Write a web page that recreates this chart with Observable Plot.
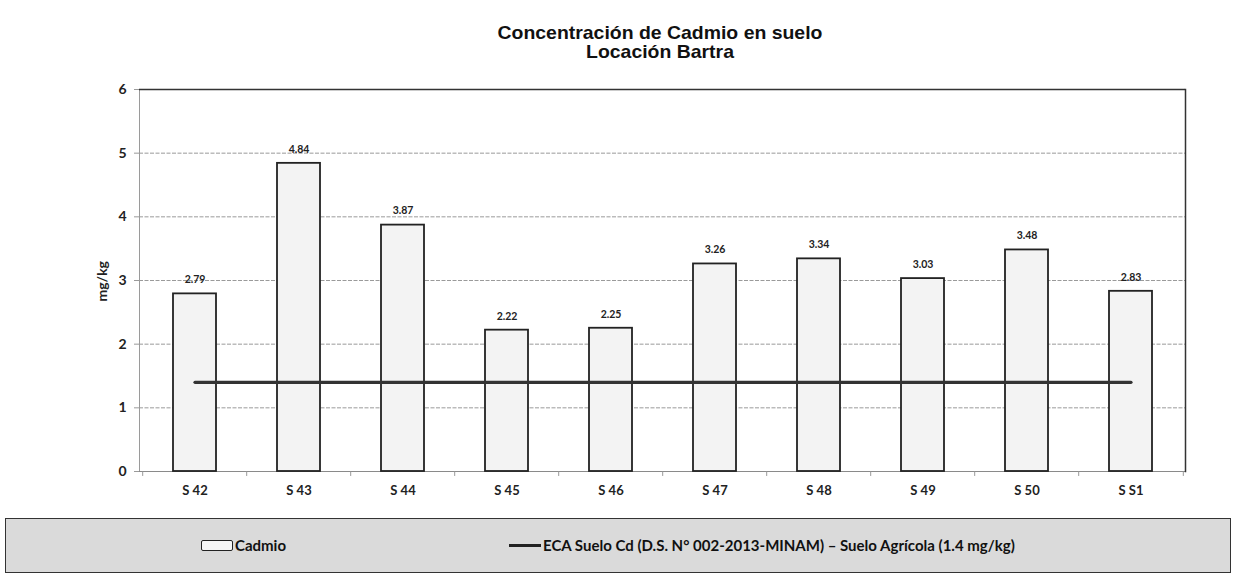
<!DOCTYPE html>
<html>
<head>
<meta charset="utf-8">
<script src="https://cdn.jsdelivr.net/npm/d3@7"></script>
<script src="https://cdn.jsdelivr.net/npm/@observablehq/plot@0.6"></script>
<style>
  html, body { margin: 0; padding: 0; background: #fff; }
  #wrap { position: relative; width: 1255px; height: 587px; overflow: hidden; }
  #title { position: absolute; left: 0; top: 23px; width: 1320px; text-align: center;
           font-family: "Liberation Sans", Arial, sans-serif; font-weight: bold; font-size: 18.5px;
           line-height: 19px; color: #111; transform: scaleX(1.05); transform-origin: 660px 0; }
  #chart { position: absolute; left: 0; top: 75px; }
  #legend { position: absolute; left: 5px; top: 518px; width: 1226px; height: 55px;
            background: #dadada; border: 1.5px solid #333; box-sizing: border-box;
            font-family: Lato, "Open Sans", sans-serif; font-weight: bold; font-size: 15px; color: #111; }
  .li { position: absolute; top: 17px; display: flex; align-items: center; gap: 2px; white-space: nowrap; }
  .sw-bar { width: 32px; height: 11px; background: #f6f6f6; border: 1.5px solid #222; box-sizing: border-box; border-radius: 2px; }
  .sw-line { width: 32px; height: 3px; background: #222; }
</style>
</head>
<body>
<div id="wrap">
  <div id="title">Concentración de Cadmio en suelo<br>Locación Bartra</div>
  <div id="chart"></div>
  <div id="legend">
    <div class="li" style="left:195px"><span class="sw-bar"></span><span id="lg1"></span></div>
    <div class="li" style="left:503px"><span class="sw-line"></span><span id="lg2"></span></div>
  </div>
</div>
<script>
// ---- data ----
const categories = ["S 42", "S 43", "S 44", "S 45", "S 46", "S 47", "S 48", "S 49", "S 50", "S S1"];
const cadmio = [2.79, 4.84, 3.87, 2.22, 2.25, 3.26, 3.34, 3.03, 3.48, 2.83];
const ecaValue = 1.4;
const yTicks = [0, 1, 2, 3, 4, 5, 6];
const seriesNames = ["Cadmio", "ECA Suelo Cd (D.S. N° 002-2013-MINAM) – Suelo Agrícola (1.4 mg/kg)"];
const yLabel = "mg/kg";

document.getElementById("lg1").textContent = seriesNames[0];
document.getElementById("lg2").textContent = seriesNames[1];

const bars = categories.map((c, i) => ({cat: c, value: cadmio[i]}));
const eca = categories.map(c => ({cat: c, value: ecaValue}));

const W = 1255, H = 436, ML = 139, MR = 70, MT = 14, MB = 40;
const step = (W - ML - MR) / categories.length;

const chart = Plot.plot({
  width: W, height: H,
  marginLeft: ML, marginRight: MR, marginTop: MT, marginBottom: MB,
  style: {fontFamily: "Lato, 'Open Sans', sans-serif", background: "transparent"},
  x: {domain: categories, paddingInner: 0.59, paddingOuter: 0.295, label: null},
  y: {domain: [0, 6], label: null},
  marks: [
    // gridlines
    Plot.ruleY(yTicks.filter(d => d > 0 && d < 6), {stroke: "#9a9a9a", strokeWidth: 1, strokeDasharray: "4,1.5"}),
    // left axis line (light)
    Plot.frame({anchor: "left", stroke: "#9a9a9a", strokeWidth: 1}),
    // baseline
    Plot.ruleY([0], {stroke: "#8a8a8a", strokeWidth: 1.2}),
    // category boundary ticks
    Plot.link(categories, {x1: d => d, x2: d => d, y1: 0, y2: -0.07, dx: -step / 2, stroke: "#999"}),
    Plot.link([categories[categories.length - 1]], {x1: d => d, x2: d => d, y1: 0, y2: -0.07, dx: step / 2, stroke: "#999"}),
    // top and right frame
    Plot.ruleY([6], {stroke: "#333", strokeWidth: 1.6}),
    Plot.frame({anchor: "right", stroke: "#333", strokeWidth: 1.5}),
    // bars
    Plot.barY(bars, {x: "cat", y: "value", fill: "#f3f3f3", stroke: "#222", strokeWidth: 1.8}),
    // value labels
    Plot.text(bars, {x: "cat", y: "value", text: d => d.value.toFixed(2), dy: -14,
      fontSize: 10.5, fontWeight: "bold", fill: "#222"}),
    // ECA line
    Plot.lineY(eca, {x: "cat", y: "value", stroke: "#333", strokeWidth: 3.2}),
    // axes
    Plot.axisY(yTicks, {tickSize: 5, tickPadding: 8, tickFormat: d3.format("d"), stroke: "#9a9a9a",
      fontSize: 14, fontWeight: "bold", fill: "#222"}),
    Plot.axisX({tickSize: 0, tickPadding: 14, fontSize: 13, fontWeight: "bold", fill: "#222"}),
    Plot.text([yLabel], {frameAnchor: "left", dx: -37, dy: 21, rotate: -90, text: d => d,
      fontSize: 14, fontWeight: "bold", fill: "#222"})
  ]
});
document.getElementById("chart").appendChild(chart);
</script>
</body>
</html>
